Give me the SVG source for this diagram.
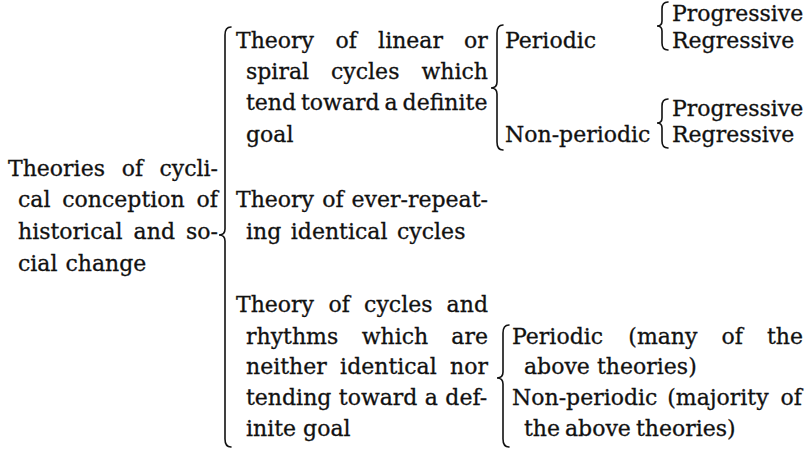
<svg xmlns="http://www.w3.org/2000/svg" width="810" height="449" viewBox="0 0 810 449">
<style>
text{font-family:"DejaVu Serif","Liberation Serif",serif;font-size:22px;fill:#111;stroke:#111;stroke-width:0.3}
.br{fill:none;stroke:#111;stroke-width:1.6;stroke-linecap:round}
</style>
<rect width="810" height="449" fill="#fff"/>
<g id="root">
<text y="176"><tspan x="8">Theories</tspan><tspan x="121.7">of</tspan><tspan x="159.4">cycli-</tspan></text>
<text y="207"><tspan x="18">cal</tspan><tspan x="62.3">conception</tspan><tspan x="196.6">of</tspan></text>
<text y="239"><tspan x="18">historical</tspan><tspan x="133.6">and</tspan><tspan x="186">so-</tspan></text>
<text y="271"><tspan x="18">cial</tspan><tspan x="65.5">change</tspan></text>
</g>
<g id="linear-spiral">
<text y="48"><tspan x="236">Theory</tspan><tspan x="335.6">of</tspan><tspan x="378.1">linear</tspan><tspan x="464.1">or</tspan></text>
<text y="79"><tspan x="246">spiral</tspan><tspan x="331">cycles</tspan><tspan x="421.5">which</tspan></text>
<text y="110"><tspan x="246">tend</tspan><tspan x="301">toward</tspan><tspan x="384.5">a</tspan><tspan x="402.6">definite</tspan></text>
<text y="142"><tspan x="246">goal</tspan></text>
</g>
<g id="ever-repeating">
<text y="207"><tspan x="236">Theory</tspan><tspan x="322.3">of</tspan><tspan x="351.5">ever-repeat-</tspan></text>
<text y="239"><tspan x="246">ing</tspan><tspan x="290.8">identical</tspan><tspan x="397">cycles</tspan></text>
</g>
<g id="rhythms">
<text y="312"><tspan x="236">Theory</tspan><tspan x="328.6">of</tspan><tspan x="364.1">cycles</tspan><tspan x="446.6">and</tspan></text>
<text y="344"><tspan x="246">rhythms</tspan><tspan x="361.7">which</tspan><tspan x="451.3">are</tspan></text>
<text y="374"><tspan x="246">neither</tspan><tspan x="340.1">identical</tspan><tspan x="450.1">nor</tspan></text>
<text y="405"><tspan x="246">tending</tspan><tspan x="338.8">toward</tspan><tspan x="424.8">a</tspan><tspan x="445.3">def-</tspan></text>
<text y="436"><tspan x="246">inite</tspan><tspan x="303.1">goal</tspan></text>
</g>
<g id="periodic-1"><text x="505" y="48">Periodic</text></g>
<g id="nonperiodic-1"><text x="505" y="142">Non-periodic</text></g>
<g id="progressive-1"><text x="672" y="21">Progressive</text></g>
<g id="regressive-1"><text x="672" y="48">Regressive</text></g>
<g id="progressive-2"><text x="672" y="116">Progressive</text></g>
<g id="regressive-2"><text x="672" y="142">Regressive</text></g>
<g id="periodic-2">
<text y="344"><tspan x="512">Periodic</tspan><tspan x="628.3">(many</tspan><tspan x="721.6">of</tspan><tspan x="766.9">the</tspan></text>
<text y="374"><tspan x="524">above</tspan><tspan x="597">theories)</tspan></text>
</g>
<g id="nonperiodic-2">
<text y="405"><tspan x="512">Non-periodic</tspan><tspan x="667.2">(majority</tspan><tspan x="780.5">of</tspan></text>
<text y="436"><tspan x="524">the</tspan><tspan x="565">above</tspan><tspan x="635.9">theories)</tspan></text>
</g>
<g id="connectors">
<path class="br" d="M231,27 Q225,27 225,35 L225,229 Q225,235 219,235 Q225,235 225,241 L225,439 Q225,447 231,447"/>
<path class="br" d="M503,25 Q497,25 497,33 L497,82 Q497,88 491,88 Q497,88 497,94 L497,142 Q497,150 503,150"/>
<path class="br" d="M668,2 Q662,2 662,9 L662,21 Q662,26 657,26 Q662,26 662,31 L662,43 Q662,50 668,50"/>
<path class="br" d="M668,99 Q662,99 662,106 L662,118 Q662,123 657,123 Q662,123 662,128 L662,141 Q662,148 668,148"/>
<path class="br" d="M509,325 Q503,325 503,333 L503,372 Q503,378 497,378 Q503,378 503,384 L503,439 Q503,447 509,447"/>
</g>
</svg>
